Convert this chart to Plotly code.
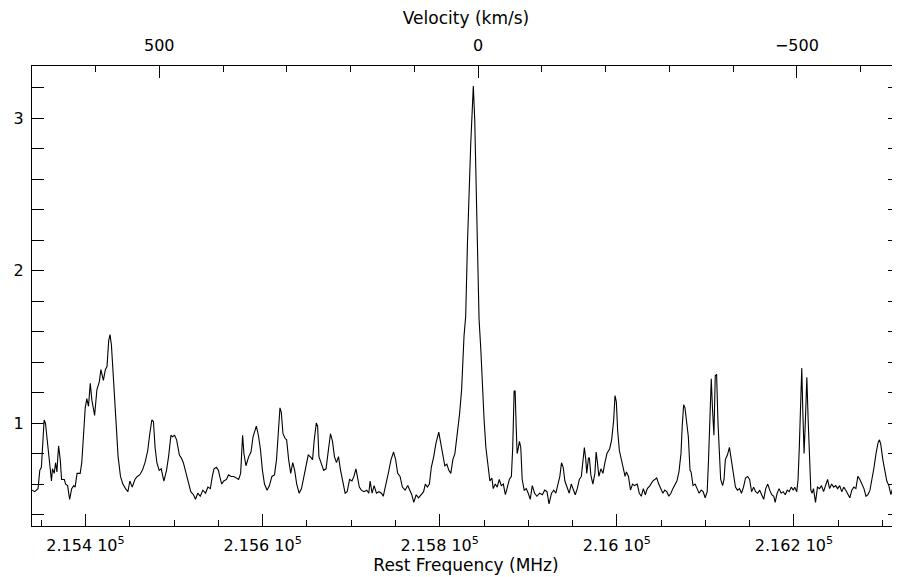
import plotly.graph_objects as go

# Spectrum (rest frequency in MHz, intensity)
freq_mhz = [
    215339.6, 215342.7, 215346.4, 215348.4, 215350.2, 215353.3, 215354.8, 215357.0, 215359.8, 215361.6,
    215362.7, 215364.7, 215366.2, 215367.7, 215369.6, 215371.5, 215373.0, 215376.1, 215377.6, 215379.8,
    215382.1, 215384.4, 215386.7, 215388.3, 215390.5, 215394.0, 215395.8, 215397.7, 215399.7, 215401.5,
    215403.4, 215405.4, 215407.2, 215410.3, 215412.9, 215415.6, 215417.4, 215420.2, 215422.4, 215424.3,
    215426.2, 215427.7, 215429.3, 215431.9, 215434.5, 215436.8, 215439.5, 215442.2, 215445.2, 215447.9,
    215450.1, 215452.8, 215455.8, 215458.5, 215461.2, 215464.2, 215467.2, 215470.3, 215472.6, 215474.9,
    215476.7, 215478.6, 215480.6, 215483.2, 215485.5, 215488.5, 215491.5, 215493.8, 215496.5, 215498.3,
    215500.6, 215502.9, 215506.0, 215508.3, 215510.5, 215513.6, 215516.6, 215518.9, 215521.9, 215524.2,
    215526.8, 215529.6, 215532.5, 215535.6, 215538.2, 215541.0, 215543.2, 215545.1, 215547.8, 215550.1,
    215551.6, 215553.8, 215556.1, 215559.2, 215561.5, 215564.4, 215567.5, 215570.6, 215572.9, 215575.2,
    215577.4, 215578.9, 215581.2, 215584.3, 215586.9, 215589.2, 215592.9, 215595.2, 215597.5, 215599.8,
    215602.1, 215605.1, 215607.7, 215610.5, 215613.4, 215615.7, 215617.7, 215619.6, 215621.1, 215623.0,
    215625.3, 215627.1, 215629.4, 215631.7, 215634.0, 215636.2, 215638.5, 215641.2, 215643.9, 215646.9,
    215649.2, 215651.5, 215653.8, 215656.4, 215658.3, 215660.6, 215662.1, 215663.6, 215665.9, 215668.9,
    215671.6, 215674.3, 215676.6, 215678.9, 215681.1, 215683.4, 215685.7, 215688.0, 215690.6, 215693.2,
    215695.5, 215698.2, 215700.9, 215703.1, 215705.4, 215706.9, 215709.2, 215711.5, 215714.5, 215717.6,
    215719.9, 215721.4, 215723.6, 215725.9, 215728.5, 215731.3, 215734.2, 215736.2, 215738.8, 215741.9,
    215745.0, 215747.9, 215750.2, 215752.5, 215755.2, 215757.8, 215760.9, 215763.9, 215766.2, 215768.4,
    215770.7, 215773.4, 215776.1, 215779.1, 215781.8, 215783.7, 215786.0, 215788.3, 215790.5, 215793.2,
    215795.8, 215798.9, 215801.1, 215803.4, 215805.7, 215808.0, 215810.3, 215812.5, 215814.8, 215817.1,
    215819.7, 215822.4, 215824.7, 215827.4, 215829.3, 215831.3, 215835.0, 215837.0, 215837.9, 215839.5,
    215842.5, 215844.4, 215846.4, 215848.2, 215850.1, 215852.1, 215853.9, 215855.0, 215856.6, 215858.9,
    215860.4, 215862.7, 215864.9, 215867.2, 215869.5, 215871.8, 215874.1, 215876.4, 215878.6, 215880.9,
    215882.4, 215884.0, 215885.1, 215886.3, 215887.4, 215888.5, 215890.0, 215891.5, 215893.1, 215895.4,
    215897.7, 215899.9, 215902.2, 215904.5, 215907.1, 215909.7, 215912.8, 215915.9, 215918.5, 215921.1,
    215923.4, 215926.2, 215928.8, 215931.1, 215933.3, 215935.6, 215937.5, 215939.4, 215941.3, 215943.9,
    215946.2, 215948.5, 215950.8, 215953.0, 215955.3, 215957.6, 215959.9, 215962.2, 215963.3, 215964.9,
    215966.0, 215967.9, 215969.0, 215970.6, 215972.9, 215975.2, 215976.6, 215978.1, 215979.7, 215982.0,
    215984.3, 215986.5, 215988.8, 215991.8, 215994.1, 215996.4, 215997.9, 215999.4, 216000.9, 216002.8,
    216004.8, 216007.1, 216009.3, 216010.8, 216013.1, 216015.4, 216017.7, 216019.9, 216023.0, 216025.3,
    216027.6, 216029.9, 216032.1, 216034.4, 216037.4, 216040.5, 216042.7, 216045.0, 216047.3, 216049.6,
    216051.9, 216054.1, 216056.4, 216058.7, 216061.0, 216063.2, 216065.5, 216067.8, 216070.1, 216072.4,
    216073.8, 216075.4, 216076.9, 216078.4, 216080.7, 216082.6, 216083.8, 216086.0, 216088.3, 216090.6,
    216092.9, 216095.2, 216097.4, 216099.7, 216102.0, 216103.5, 216105.1, 216106.6, 216108.0, 216109.6,
    216111.1, 216112.6, 216114.2, 216115.7, 216117.2, 216119.4, 216121.0, 216122.5, 216124.8, 216127.1,
    216129.3, 216131.6, 216133.9, 216136.2, 216138.5, 216140.7, 216143.0, 216145.3, 216147.6, 216149.9,
    216152.1, 216154.4, 216156.7, 216159.0, 216161.3, 216163.5, 216165.8, 216168.1, 216170.4, 216172.6,
    216174.9, 216177.2, 216178.7, 216181.0, 216183.2, 216185.5, 216187.8, 216190.1, 216192.4, 216194.6,
    216196.9, 216199.2, 216200.8, 216203.1, 216204.6, 216206.0, 216207.6, 216208.8, 216209.9, 216211.4,
    216212.9, 216214.5, 216216.0, 216217.4, 216219.0, 216220.5, 216222.0, 216224.3, 216226.5, 216228.8,
    216231.1, 216233.4, 216235.7, 216237.9, 216240.2, 216242.5, 216244.8, 216247.1, 216249.3, 216251.6,
    216253.9, 216256.2, 216258.5, 216260.7, 216263.0, 216265.3, 216267.6, 216269.9, 216272.1, 216274.4,
    216276.7, 216279.0, 216281.3, 216283.5, 216285.8, 216288.1, 216290.4, 216292.6, 216294.9, 216296.5,
    216298.0, 216300.3, 216302.6, 216304.8, 216307.1, 216309.4, 216311.7, 216313.9, 216316.2, 216318.5,
    216320.8, 216323.1, 216325.4, 216326.8, 216328.4,
]

intensity = [
    0.56, 0.55, 0.57, 0.69, 0.71, 1.02, 1.00, 0.87, 0.71, 0.62,
    0.70, 0.67, 0.74, 0.68, 0.85, 0.76, 0.63, 0.63, 0.60, 0.59,
    0.50, 0.57, 0.59, 0.58, 0.67, 0.67, 0.74, 0.95, 1.10, 1.16,
    1.11, 1.26, 1.15, 1.05, 1.22, 1.27, 1.35, 1.28, 1.35, 1.37,
    1.54, 1.58, 1.51, 1.26, 1.02, 0.78, 0.65, 0.60, 0.57, 0.55,
    0.62, 0.58, 0.63, 0.65, 0.66, 0.69, 0.74, 0.82, 0.93, 1.02,
    1.01, 0.84, 0.74, 0.69, 0.70, 0.62, 0.69, 0.78, 0.92, 0.91,
    0.92, 0.89, 0.79, 0.77, 0.74, 0.67, 0.60, 0.55, 0.53, 0.50,
    0.54, 0.52, 0.56, 0.54, 0.58, 0.57, 0.65, 0.70, 0.71, 0.69,
    0.65, 0.60, 0.62, 0.63, 0.66, 0.65, 0.65, 0.64, 0.63, 0.67,
    0.92, 0.80, 0.72, 0.78, 0.81, 0.91, 0.98, 0.92, 0.83, 0.69,
    0.60, 0.56, 0.59, 0.65, 0.66, 0.76, 0.95, 1.10, 1.07, 0.93,
    0.90, 0.89, 0.76, 0.67, 0.74, 0.69, 0.60, 0.54, 0.57, 0.65,
    0.71, 0.79, 0.78, 0.76, 0.89, 1.00, 0.98, 0.78, 0.74, 0.69,
    0.70, 0.82, 0.93, 0.88, 0.78, 0.74, 0.78, 0.69, 0.62, 0.54,
    0.55, 0.63, 0.62, 0.65, 0.70, 0.64, 0.58, 0.56, 0.55, 0.56,
    0.54, 0.62, 0.54, 0.59, 0.54, 0.55, 0.54, 0.52, 0.60, 0.67,
    0.76, 0.81, 0.76, 0.67, 0.65, 0.58, 0.56, 0.59, 0.56, 0.53,
    0.48, 0.53, 0.51, 0.53, 0.55, 0.60, 0.58, 0.60, 0.71, 0.78,
    0.87, 0.94, 0.86, 0.78, 0.72, 0.73, 0.69, 0.67, 0.76, 0.80,
    0.93, 1.06, 1.22, 1.57, 1.70, 2.18, 2.83, 3.15, 3.21, 2.99,
    2.29, 1.68, 1.48, 1.24, 1.02, 0.84, 0.75, 0.72, 0.62, 0.64,
    0.57, 0.60, 0.58, 0.63, 0.59, 0.60, 0.53, 0.58, 0.63, 0.65,
    0.84, 1.21, 1.21, 0.98, 0.80, 0.83, 0.88, 0.84, 0.63, 0.56,
    0.57, 0.54, 0.50, 0.59, 0.54, 0.52, 0.54, 0.53, 0.56, 0.55,
    0.47, 0.54, 0.56, 0.54, 0.59, 0.65, 0.74, 0.71, 0.62, 0.58,
    0.54, 0.60, 0.57, 0.53, 0.57, 0.63, 0.65, 0.76, 0.84, 0.76,
    0.67, 0.77, 0.77, 0.66, 0.60, 0.67, 0.81, 0.74, 0.65, 0.70,
    0.67, 0.74, 0.80, 0.83, 0.89, 1.02, 1.18, 1.14, 0.95, 0.82,
    0.76, 0.71, 0.65, 0.68, 0.65, 0.56, 0.60, 0.59, 0.60, 0.54,
    0.52, 0.57, 0.53, 0.57, 0.59, 0.62, 0.63, 0.64, 0.60, 0.57,
    0.54, 0.56, 0.55, 0.52, 0.54, 0.57, 0.60, 0.62, 0.68, 0.80,
    0.98, 1.12, 1.10, 1.02, 0.91, 0.69, 0.68, 0.59, 0.60, 0.57,
    0.54, 0.56, 0.55, 0.51, 0.55, 0.76, 1.13, 1.29, 1.09, 0.92,
    1.31, 1.32, 1.00, 0.76, 0.63, 0.59, 0.63, 0.76, 0.79, 0.84,
    0.76, 0.66, 0.58, 0.56, 0.57, 0.54, 0.58, 0.64, 0.65, 0.63,
    0.55, 0.58, 0.55, 0.54, 0.56, 0.53, 0.50, 0.57, 0.60, 0.56,
    0.53, 0.52, 0.48, 0.54, 0.57, 0.54, 0.55, 0.53, 0.56, 0.55,
    0.58, 0.56, 0.58, 0.55, 0.63, 0.84, 1.17, 1.36, 1.09, 0.80,
    1.02, 1.30, 1.02, 0.74, 0.56, 0.54, 0.57, 0.48, 0.58, 0.57,
    0.59, 0.55, 0.60, 0.63, 0.57, 0.60, 0.58, 0.59, 0.57, 0.59,
    0.55, 0.58, 0.56, 0.54, 0.51, 0.56, 0.58, 0.57, 0.65, 0.63,
    0.60, 0.57, 0.52, 0.53, 0.56, 0.63, 0.71, 0.80, 0.87, 0.89,
    0.86, 0.76, 0.69, 0.62, 0.59, 0.53, 0.58, 0.53, 0.52, 0.52,
    0.58, 0.63, 0.76, 0.65, 0.52,
]

# Axis settings (right end is where the page cuts the frame)
FREQ_RANGE = [215339.6, 216319.7]
Y_RANGE = [0.325, 3.341]
REST_FREQ = 215843.3  # MHz, zero velocity
C_KMS = 299792.458

freq_tickvals = [215400, 215600, 215800, 216000, 216200]
freq_ticktext = ["2.154 10<sup>5</sup>", "2.156 10<sup>5</sup>", "2.158 10<sup>5</sup>",
                 "2.16 10<sup>5</sup>", "2.162 10<sup>5</sup>"]
vel_tickvals = [500, 0, -500]
vel_ticktext = ["500", "0", "\u2212500"]
y_tickvals = [1, 2, 3]

# velocity axis is linear in frequency (radio convention)
vel_range = [C_KMS * (1 - f / REST_FREQ) for f in FREQ_RANGE]

font_family = "DejaVu Sans"

fig = go.Figure()
fig.add_trace(go.Scatter(x=freq_mhz, y=intensity, mode="lines",
                         line=dict(color="black", width=1.1), showlegend=False))

tick_common = dict(ticks="inside", ticklen=12, tickwidth=1, tickcolor="black",
                   showline=True, linecolor="black", linewidth=1, showgrid=False,
                   zeroline=False, automargin=False,
                   tickfont=dict(family=font_family, size=16, color="black"))

# the page adds an 8px body margin, so the figure is sized/offset to compensate
fig.update_layout(
    width=892, height=569,
    margin=dict(l=24, r=0, t=58, b=51),
    paper_bgcolor="white", plot_bgcolor="white",
    font=dict(family=font_family, size=17, color="black"),
    xaxis=dict(range=FREQ_RANGE, tickmode="array", tickvals=freq_tickvals, ticktext=freq_ticktext,
               minor=dict(dtick=50, tick0=215400, ticks="inside", ticklen=6, tickcolor="black"),
               ticklabelstandoff=5,
               title=dict(text="Rest Frequency (MHz)", standoff=0,
                          font=dict(family=font_family, size=17)),
               **tick_common),
    xaxis2=dict(range=vel_range, overlaying="x", side="top", anchor="y",
                tickmode="array", tickvals=vel_tickvals, ticktext=vel_ticktext,
                minor=dict(dtick=100, tick0=0, ticks="inside", ticklen=6, tickcolor="black"),
                ticklabelstandoff=8,
                title=dict(text="Velocity (km/s)", standoff=8,
                           font=dict(family=font_family, size=17)),
                **tick_common),
    yaxis=dict(range=Y_RANGE, tickmode="array", tickvals=y_tickvals, mirror="allticks",
               minor=dict(dtick=0.2, tick0=0, ticks="inside", ticklen=6, tickcolor="black"),
               ticklabelstandoff=4,
               **tick_common),
)

# dummy trace so the top velocity axis is drawn
fig.add_trace(go.Scatter(x=[], y=[], xaxis="x2", yaxis="y", showlegend=False))

fig.write_html("out.html")
